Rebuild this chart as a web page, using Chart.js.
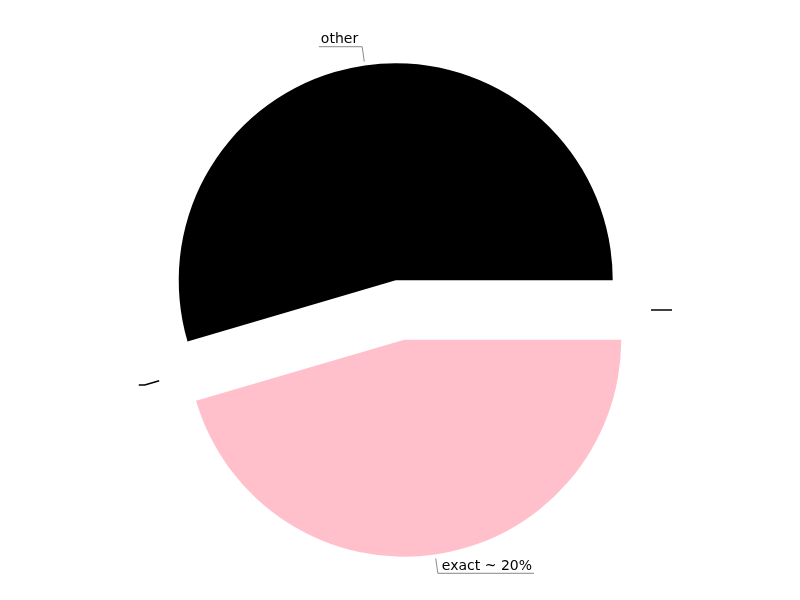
<!DOCTYPE html>
<html>
<head>
<meta charset="utf-8">
<script src="https://cdn.jsdelivr.net/npm/chart.js@4/dist/chart.umd.min.js"></script>
<style>
  html, body { margin: 0; padding: 0; background: #ffffff; }
  #wrap { width: 800px; height: 600px; }
</style>
</head>
<body>
<div id="wrap"><canvas id="c" width="800" height="600"></canvas></div>
<script>
// ---- data ----
const sliceLabels = ['exact ~ 20%', '', 'other', ''];
const sliceValues = [5, 0, 6, 0];
const sliceColors = ['#FFC0CB', '#FFC0CB', '#000000', '#000000'];

// ---- layout / style ----
const EXPLODE_PX = 30;
const PIE_RADIUS = 217;
const FONT = '14px "DejaVu Sans", sans-serif';

function midAngle(arc) {
  const p = arc.getProps(['startAngle', 'endAngle'], true);
  return (p.startAngle + p.endAngle) / 2;
}

// explode every slice outward by EXPLODE_PX along its mid-angle
const explode = {
  id: 'explode',
  beforeDatasetDraw(chart, args) {
    args.meta.data.forEach(arc => {
      const m = midAngle(arc);
      arc._ox = arc.x; arc._oy = arc.y;
      arc.x += Math.cos(m) * EXPLODE_PX;
      arc.y += Math.sin(m) * EXPLODE_PX;
    });
  },
  afterDatasetDraw(chart, args) {
    args.meta.data.forEach(arc => {
      arc.x = arc._ox; arc.y = arc._oy;
    });
  }
};

const leaderLabels = {
  id: 'leaderLabels',
  afterDatasetsDraw(chart) {
    const ctx = chart.ctx;
    const meta = chart.getDatasetMeta(0);
    ctx.save();
    ctx.font = FONT;
    meta.data.forEach((arc, i) => {
      const p = arc.getProps(['x', 'y', 'outerRadius'], true);
      const mid = midAngle(arc);
      const c = Math.cos(mid), s = Math.sin(mid);
      const cx = p.x + c * EXPLODE_PX, cy = p.y + s * EXPLODE_PX;
      const r1 = p.outerRadius + 4, r2 = p.outerRadius + 19;
      const x1 = cx + c * r1, y1 = cy + s * r1;
      const x2 = cx + c * r2, y2 = cy + s * r2;
      const txt = sliceLabels[i];
      const tw = txt ? ctx.measureText(txt).width : 0;
      const dir = c >= 0 ? 1 : -1;
      const x3 = x2 + dir * (tw + 6);
      const empty = sliceValues[i] === 0;
      ctx.strokeStyle = empty ? '#000000' : '#888888';
      ctx.lineWidth = empty ? 1.5 : 1;
      ctx.beginPath();
      ctx.moveTo(x1, y1);
      ctx.lineTo(x2, y2);
      ctx.lineTo(x3, y2);
      ctx.stroke();
      if (txt) {
        ctx.fillStyle = '#000000';
        ctx.textBaseline = 'alphabetic';
        ctx.textAlign = dir > 0 ? 'left' : 'right';
        ctx.fillText(txt, x2 + dir * 4, y2 - 3.5);
      }
    });
    ctx.restore();
  }
};

new Chart(document.getElementById('c'), {
  type: 'pie',
  data: {
    labels: sliceLabels,
    datasets: [{
      data: sliceValues,
      backgroundColor: sliceColors,
      borderWidth: 0
    }]
  },
  options: {
    responsive: false,
    devicePixelRatio: 1,
    animation: false,
    rotation: 90,
    radius: PIE_RADIUS,
    layout: { padding: { top: 20 } },
    plugins: {
      legend: { display: false },
      tooltip: { enabled: false }
    }
  },
  plugins: [explode, leaderLabels]
});
</script>
</body>
</html>
